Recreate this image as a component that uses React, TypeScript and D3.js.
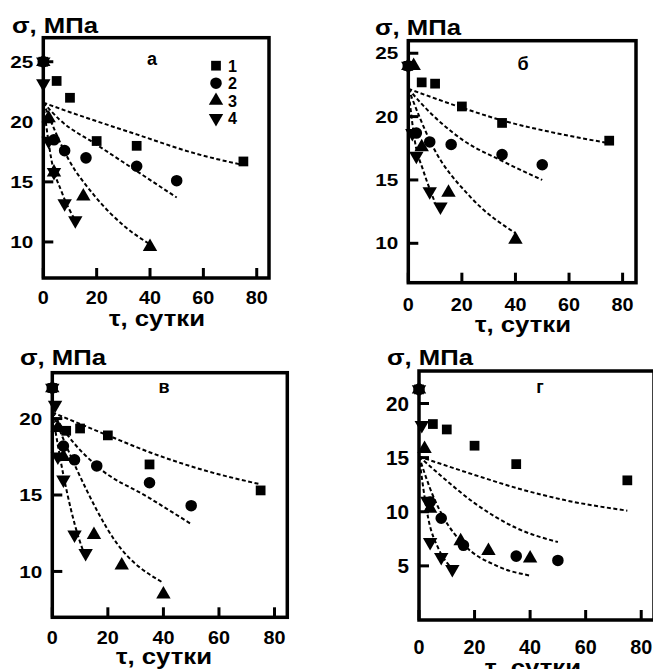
import React from "react";
import * as d3 from "d3";

type P = [number, number];

// ---- tick values / labels ----
const xTicks = [0, 20, 40, 60, 80];
const yTicksA = [10, 15, 20, 25];
const yTicksB = [10, 15, 20, 25];
const yTicksV = [10, 15, 20];
const yTicksG = [5, 10, 15, 20];
const legendLabels = ["1", "2", "3", "4"];
const panelLetters = ["а", "б", "в", "г"];
const yTitle = "σ, МПа";
const xTitle = "τ, сутки";

// ---- panel а ----
const a1: P[] = [[0, 25], [5, 23.4], [10, 22], [20, 18.4], [35, 18], [75, 16.7]];
const a2: P[] = [[0, 25], [4, 18.5], [8, 17.6], [16, 17], [35, 16.3], [50, 15.1]];
const a3: P[] = [[0, 25], [2, 20.3], [4, 15.8], [15, 13.8], [40, 9.6]];
const a4: P[] = [[0, 25], [0, 23.2], [2, 18.4], [4, 15.8], [8, 13.2], [12, 11.8]];
const aFit1: P[] = [[0, 21.6], [10, 20.8], [20, 20.05], [35, 18.95], [58, 17.3], [75, 16.4]];
const aFit2: P[] = [[0, 21.6], [6, 20.2], [20, 18.1], [35, 15.9], [50, 13.7]];
const aFit3: P[] = [[0, 21.6], [9.4, 16.9], [19, 13.9], [31, 11.2], [40, 9.8]];
const aFit4: P[] = [[0, 21.6], [3, 16.9], [7, 14.1], [12.5, 11.6]];

// ---- panel б ----
const b1: P[] = [[0, 24], [5, 22.7], [10, 22.6], [20, 20.8], [35, 19.5], [75, 18.1]];
const b2: P[] = [[0, 24], [3, 18.7], [8, 18], [16, 17.8], [35, 17], [50, 16.2]];
const b3: P[] = [[0, 24], [2, 24], [5, 17.6], [15, 14], [40, 10.3]];
const b4: P[] = [[0, 24], [1.5, 18.7], [3, 16.9], [8, 14.1], [12, 12.9]];
const bFit1: P[] = [[0, 22.2], [20, 20.7], [35, 19.7], [55, 18.7], [75, 17.9]];
const bFit2: P[] = [[0, 22.2], [5, 21.0], [20, 18.2], [35, 16.5], [50, 15.0]];
const bFit3: P[] = [[0, 22.2], [9, 17.7], [23, 13.7], [40, 10.8]];
const bFit4: P[] = [[0, 22.2], [2.5, 18], [5.5, 15.8], [10, 13.2]];

// ---- panel в ----
const v1: P[] = [[0, 22], [5, 19.2], [10, 19.35], [20, 18.9], [35, 17], [75, 15.3]];
const v2: P[] = [[0, 22], [4, 18.2], [8, 17.3], [16, 16.9], [35, 15.8], [50, 14.3]];
const v3: P[] = [[0, 22], [2, 19.4], [4, 17.5], [15, 12.4], [25, 10.4], [40, 8.5]];
const v4: P[] = [[0, 22], [1, 20.9], [2, 17.5], [4, 16], [8, 12.4], [12, 11.2]];
const vFit1: P[] = [[0, 20.4], [20, 18.9], [35, 17.8], [55, 16.6], [75, 15.7]];
const vFit2: P[] = [[0, 20.4], [6, 18.8], [16, 16.9], [35, 14.8], [50, 13.1]];
const vFit3: P[] = [[0, 20.4], [9, 16.6], [23, 11.9], [40, 9.25]];
const vFit4: P[] = [[0, 20.4], [4, 16.3], [9.5, 12.2], [11, 11.4]];

// ---- panel г ----
const g1: P[] = [[0, 21.3], [5, 18.1], [10, 17.6], [20, 16.1], [35, 14.4], [75, 12.9]];
const g2: P[] = [[0, 21.3], [4, 10.9], [8, 9.4], [16, 6.9], [35, 5.9], [50, 5.5]];
const g3: P[] = [[0, 21.3], [2, 15.8], [4, 10.3], [15, 7.3], [25, 6.4], [40, 5.7]];
const g4: P[] = [[0, 21.3], [1, 18], [3, 11], [4, 7.2], [8, 5.8], [12, 4.7]];
const gFit1: P[] = [[0, 15.1], [20, 13.4], [35, 12.2], [52, 11.1], [75, 10.1]];
const gFit2: P[] = [[0, 15.1], [8, 13.3], [20, 10.8], [35, 8.5], [50, 7.2]];
const gFit3: P[] = [[0, 15.1], [5, 11.5], [9, 9.4], [16, 7.0], [28, 5.0], [40, 4.1]];
const gFit4: P[] = [[0, 15.1], [3.4, 9.3], [7, 6.6], [11, 5.0]];

const FONT = "'Liberation Sans', Arial, Helvetica, sans-serif";

function markerPath(kind: number): string {
  if (kind === 0) return d3.symbol(d3.symbolSquare, 95)() as string;
  if (kind === 1) return d3.symbol(d3.symbolCircle, 105)() as string;
  return d3.symbol(d3.symbolTriangle, 90)() as string;
}

function Marker({ kind, x, y }: { kind: number; x: number; y: number }) {
  const rot = kind === 3 ? " rotate(180)" : "";
  return <path d={markerPath(kind)} transform={`translate(${x},${y})${rot}`} fill="#000" />;
}

interface Layout {
  left: number; top: number; right: number; bottom: number;
  xMax: number; yMin: number; yMax: number;
  titleX: number; titleY: number;
  xLabelBase: number; xTitleY: number; xTitleCx: number;
  letterX: number; letterY: number;
  tickFont: number; xTickFont: number;
}

function Panel({ lay, series, fits, yTicks, letter, legend }: {
  lay: Layout; series: P[][]; fits: P[][]; yTicks: number[]; letter: string; legend?: boolean;
}) {
  const xs = d3.scaleLinear().domain([0, lay.xMax]).range([lay.left, lay.right]);
  const ys = d3.scaleLinear().domain([lay.yMin, lay.yMax]).range([lay.bottom, lay.top]);
  const line = d3.line<P>().x(d => xs(d[0])).y(d => ys(d[1])).curve(d3.curveMonotoneX);
  return (
    <g fontFamily={FONT} fontWeight="bold" fill="#000">
      {fits.map((f, i) => (
        <path key={"f" + i} d={line(f) as string} fill="none" stroke="#000" strokeWidth={2} strokeDasharray="4,2.5" />
      ))}
      <rect x={lay.left} y={lay.top} width={lay.right - lay.left} height={lay.bottom - lay.top}
        fill="none" stroke="#000" strokeWidth={3.5} />
      {yTicks.map(t => (
        <g key={"y" + t}>
          <line x1={lay.left} x2={lay.left + 10} y1={ys(t)} y2={ys(t)} stroke="#000" strokeWidth={3} />
          <text x={lay.left - 10} y={ys(t) + lay.tickFont * 0.36} textAnchor="end" fontSize={lay.tickFont}
            textLength={String(t).length * 11.5} lengthAdjust="spacingAndGlyphs">{t}</text>
        </g>
      ))}
      {xTicks.map(t => (
        <g key={"x" + t}>
          <line x1={xs(t)} x2={xs(t)} y1={lay.bottom} y2={lay.bottom - 10} stroke="#000" strokeWidth={3} />
          <text x={xs(t)} y={lay.xLabelBase} textAnchor="middle" fontSize={lay.xTickFont}
            textLength={String(t).length * 11} lengthAdjust="spacingAndGlyphs">{t}</text>
        </g>
      ))}
      {series.map((s, k) => s.map((p, j) => (
        <Marker key={`m${k}-${j}`} kind={k} x={xs(p[0])} y={ys(p[1])} />
      )))}
      <text x={lay.titleX} y={lay.titleY} fontSize={22} textLength={86} lengthAdjust="spacingAndGlyphs">{yTitle}</text>
      <text x={lay.xTitleCx} y={lay.xTitleY} fontSize={22} textAnchor="middle" textLength={96}
        lengthAdjust="spacingAndGlyphs">{xTitle}</text>
      <text x={lay.letterX} y={lay.letterY} fontSize={18} textAnchor="middle">{letter}</text>
      {legend && legendLabels.map((l, i) => (
        <g key={"l" + i}>
          <Marker kind={i} x={216} y={65.7 + i * 17.5} />
          <text x={228} y={71.5 + i * 17.5} fontSize={16} textLength={9} lengthAdjust="spacingAndGlyphs">{l}</text>
        </g>
      ))}
    </g>
  );
}

const layA: Layout = { left: 43.3, top: 37.7, right: 269, bottom: 278, xMax: 84.6, yMin: 7, yMax: 27,
  titleX: 12, titleY: 33, xLabelBase: 304, xTitleY: 326, xTitleCx: 157, letterX: 152, letterY: 65, tickFont: 17, xTickFont: 18 };
const layB: Layout = { left: 408.3, top: 40.7, right: 636, bottom: 282.7, xMax: 85, yMin: 6.89, yMax: 25.99,
  titleX: 375, titleY: 35, xLabelBase: 311, xTitleY: 332, xTitleCx: 523, letterX: 523, letterY: 70, tickFont: 17, xTickFont: 18 };
const layV: Layout = { left: 52.3, top: 372.7, right: 287.3, bottom: 617.3, xMax: 84.6, yMin: 7, yMax: 23,
  titleX: 20, titleY: 365, xLabelBase: 644, xTitleY: 664, xTitleCx: 164, letterX: 164, letterY: 393, tickFont: 17, xTickFont: 18 };
const layG: Layout = { left: 419, top: 371, right: 654, bottom: 620, xMax: 84.6, yMin: 0, yMax: 23,
  titleX: 387, titleY: 365, xLabelBase: 654, xTitleY: 675, xTitleCx: 533, letterX: 540, letterY: 393, tickFont: 21, xTickFont: 20 };

export default function App() {
  return (
    <svg width={653} height={669} style={{ position: "absolute", left: 0, top: 0, background: "#fff" }}>
      <rect x={0} y={0} width={653} height={669} fill="#fff" />
      <Panel lay={layA} series={[a1, a2, a3, a4]} fits={[aFit1, aFit2, aFit3, aFit4]} yTicks={yTicksA} letter={panelLetters[0]} legend />
      <Panel lay={layB} series={[b1, b2, b3, b4]} fits={[bFit1, bFit2, bFit3, bFit4]} yTicks={yTicksB} letter={panelLetters[1]} />
      <Panel lay={layV} series={[v1, v2, v3, v4]} fits={[vFit1, vFit2, vFit3, vFit4]} yTicks={yTicksV} letter={panelLetters[2]} />
      <Panel lay={layG} series={[g1, g2, g3, g4]} fits={[gFit1, gFit2, gFit3, gFit4]} yTicks={yTicksG} letter={panelLetters[3]} />
    </svg>
  );
}
